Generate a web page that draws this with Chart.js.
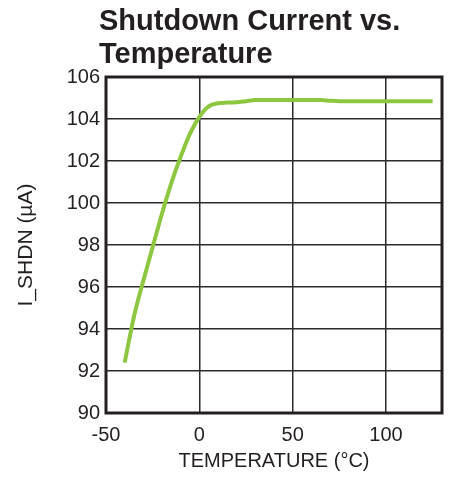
<!DOCTYPE html>
<html>
<head>
<meta charset="utf-8">
<script src="https://cdn.jsdelivr.net/npm/chart.js@4"></script>
<style>
html,body{margin:0;padding:0;background:#fff;}
#wrap{width:451px;height:478px;position:relative;}
</style>
</head>
<body>
<div id="wrap"><canvas id="c" width="451" height="478"></canvas></div>
<script>
const titleLines = ["Shutdown Current vs.", "Temperature"];
const xTitle = "TEMPERATURE (°C)";
const yTitle = "I_SHDN (µA)";
const temperature = [-40, -35, -30, -25, -20, -15, -10, -5, 0, 5, 10, 15, 20, 25, 30, 40, 50, 60, 65, 70, 75, 80, 90, 100, 110, 120, 125];
const current = [92.4, 94.6, 96.3, 97.9, 99.5, 100.95, 102.2, 103.3, 104.1, 104.6, 104.75, 104.78, 104.8, 104.85, 104.9, 104.9, 104.9, 104.9, 104.9, 104.87, 104.85, 104.85, 104.85, 104.85, 104.85, 104.85, 104.85];
const xTicks = [-50, 0, 50, 100];
const xMin = -50, xMax = 130;
const yMin = 90, yMax = 106, yStep = 2;

const textColor = '#231f20';
const fontFamily = '"Liberation Sans", Arial, Helvetica, sans-serif';

const framePlugin = {
  id: 'frame',
  afterDraw(chart) {
    const a = chart.chartArea, ctx = chart.ctx;
    ctx.save();
    ctx.strokeStyle = '#231f20';
    ctx.lineWidth = 3;
    ctx.strokeRect(a.left, a.top, a.right - a.left, a.bottom - a.top);
    ctx.restore();
  }
};
const titlePlugin = {
  id: 'leftTitle',
  afterDraw(chart) {
    const ctx = chart.ctx, a = chart.chartArea;
    ctx.save();
    ctx.fillStyle = textColor;
    ctx.font = 'bold 29px ' + fontFamily;
    ctx.textAlign = 'left';
    ctx.textBaseline = 'alphabetic';
    titleLines.forEach((t, i) => ctx.fillText(t, a.left - 7, 30 + i * 33));
    ctx.restore();
  }
};

new Chart(document.getElementById('c'), {
  type: 'line',
  data: {
    datasets: [{
      data: temperature.map((t, i) => ({x: t, y: current[i]})),
      borderColor: '#8dc63f',
      borderWidth: 4,
      pointRadius: 0,
      cubicInterpolationMode: 'monotone',
      fill: false
    }]
  },
  options: {
    responsive: false,
    animation: false,
    devicePixelRatio: 1,
    layout: {padding: {top: 77, right: 9, left: 0, bottom: 0}},
    plugins: {legend: {display: false}, tooltip: {enabled: false}, title: {display: false}},
    scales: {
      x: {
        type: 'linear',
        min: xMin, max: xMax,
        afterBuildTicks: s => { s.ticks = xTicks.map(v => ({value: v})); },
        afterFit: s => { s.height = 65; },
        grid: {color: '#2b2b2b', lineWidth: 1.5, drawTicks: false},
        border: {display: false},
        ticks: {color: textColor, font: {family: fontFamily, size: 20}, padding: 10, maxRotation: 0},
        title: {display: true, text: xTitle, color: textColor, font: {family: fontFamily, size: 20}, padding: 5}
      },
      y: {
        min: yMin, max: yMax,
        ticks: {stepSize: yStep, color: textColor, font: {family: fontFamily, size: 20}, padding: 6},
        afterFit: s => { s.width = 106; },
        grid: {color: '#2b2b2b', lineWidth: 1.5, drawTicks: false},
        border: {display: false},
        title: {display: true, text: yTitle, color: textColor, font: {family: fontFamily, size: 21}, padding: 14}
      }
    }
  },
  plugins: [framePlugin, titlePlugin]
});
</script>
</body>
</html>
